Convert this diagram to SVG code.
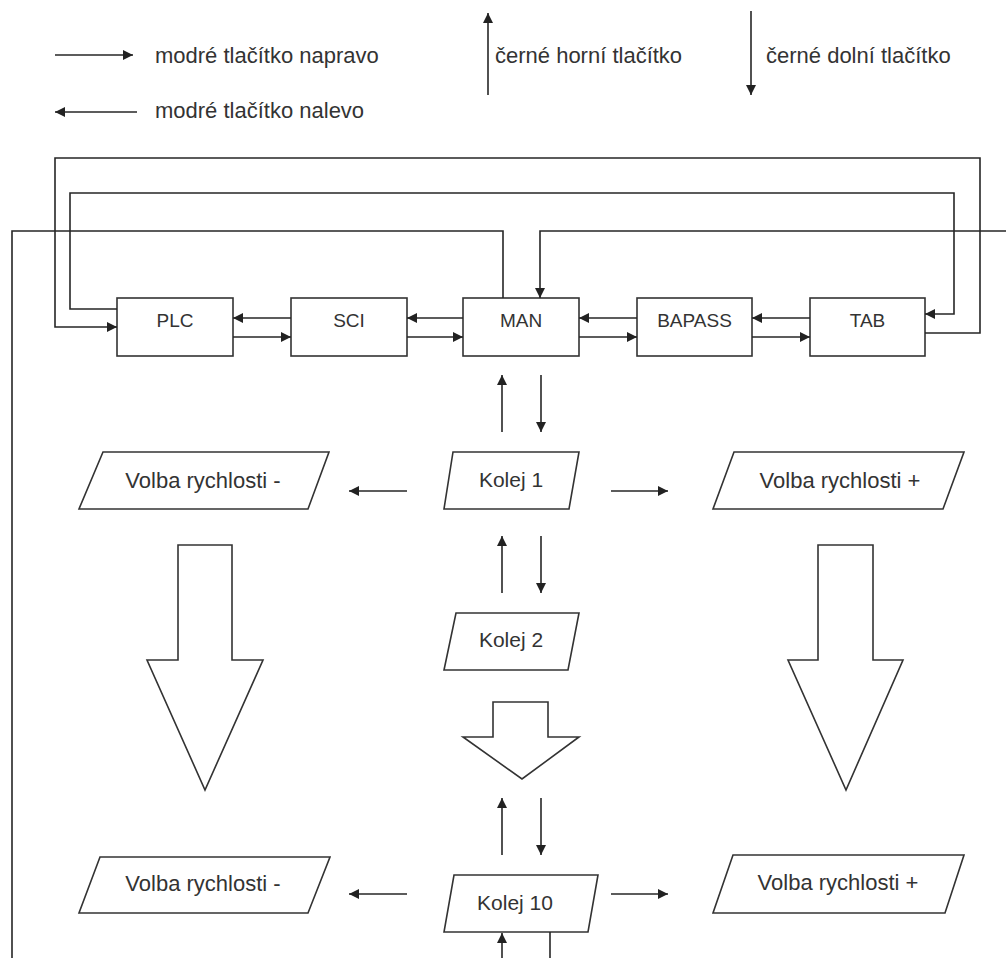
<svg xmlns="http://www.w3.org/2000/svg" width="1006" height="958" viewBox="0 0 1006 958">
<defs>
<marker id="ah" viewBox="0 0 10 10" refX="10" refY="5" markerWidth="12" markerHeight="10" markerUnits="userSpaceOnUse" orient="auto">
<path d="M0,0 L10,5 L0,10 z" fill="#222"/>
</marker>
</defs>
<style>
.ln{fill:none;stroke:#262626;stroke-width:1.6}
.ar{fill:none;stroke:#262626;stroke-width:1.6;marker-end:url(#ah)}
.sh{fill:#fff;stroke:#333;stroke-width:1.6}
.t{font-family:"Liberation Sans",Arial,sans-serif;font-size:21px;fill:#333}
.lg{font-size:22px}
.bt{font-family:"Liberation Sans",Arial,sans-serif;font-size:19px;fill:#333;text-anchor:middle}
.c{text-anchor:middle}
</style>
<rect width="1006" height="958" fill="#fff"/>

<g id="legend">
<text class="t lg" x="155" y="63">modré tlačítko napravo</text>
<text class="t lg" x="155" y="118">modré tlačítko nalevo</text>
<text class="t lg" x="495" y="63">černé horní tlačítko</text>
<text class="t lg" x="766" y="63">černé dolní tlačítko</text>
</g>

<g id="node-plc"><rect class="sh" x="117" y="298" width="116" height="58"/><text class="bt" x="175" y="327">PLC</text></g>
<g id="node-sci"><rect class="sh" x="291" y="298" width="116" height="58"/><text class="bt" x="349" y="327">SCI</text></g>
<g id="node-man"><rect class="sh" x="463" y="298" width="116" height="58"/><text class="bt" x="521" y="327">MAN</text></g>
<g id="node-bapass"><rect class="sh" x="637" y="298" width="115" height="58"/><text class="bt" x="694.5" y="327">BAPASS</text></g>
<g id="node-tab"><rect class="sh" x="810" y="298" width="115" height="58"/><text class="bt" x="867.5" y="327">TAB</text></g>

<g id="node-kolej1"><polygon class="sh" points="453,452 579,452 569,509 444,509"/><text class="t c" x="511" y="487">Kolej 1</text></g>
<g id="node-kolej2"><polygon class="sh" points="456,613 579,613 568,670 444,670"/><text class="t c" x="511" y="647">Kolej 2</text></g>
<g id="node-kolej10"><polygon class="sh" points="454,875 598,875 588,932 444,932"/><text class="t c" x="515" y="910">Kolej 10</text></g>
<g id="node-volba-minus-1"><polygon class="sh" points="103,452 329,452 308,509 79,509"/><text class="t lg c" x="203" y="488">Volba rychlosti -</text></g>
<g id="node-volba-plus-1"><polygon class="sh" points="734,452 964,452 943,509 713,509"/><text class="t lg c" x="840" y="488">Volba rychlosti +</text></g>
<g id="node-volba-minus-10"><polygon class="sh" points="100,857 330,857 308,913 79,913"/><text class="t lg c" x="203" y="891">Volba rychlosti -</text></g>
<g id="node-volba-plus-10"><polygon class="sh" points="733,855 964,855 945,913 713,913"/><text class="t lg c" x="838" y="890">Volba rychlosti +</text></g>

<g id="block-arrows">
<path class="sh" d="M178,545 H232 V660 H263 L205,790 L147,660 H178 Z"/>
<path class="sh" d="M818,545 H873 V660 H903 L846,790 L788,660 H818 Z"/>
<path class="sh" d="M493,702 H548 V737 H579 L522,779 L463,737 H493 Z"/>
</g>

<g id="connectors">
<path class="ar" d="M55,55 H133"/>
<path class="ar" d="M137,112 H55"/>
<path class="ar" d="M488,95 V13"/>
<path class="ar" d="M751,11 V95"/>

<path class="ar" d="M291,318 H233"/>
<path class="ar" d="M233,337 H291"/>
<path class="ar" d="M463,318 H407"/>
<path class="ar" d="M407,337 H463"/>
<path class="ar" d="M637,318 H579"/>
<path class="ar" d="M579,337 H637"/>
<path class="ar" d="M810,318 H752"/>
<path class="ar" d="M752,337 H810"/>

<path class="ar" d="M925,333 H980 V158 H55 V327 H117"/>
<path class="ar" d="M117,309 H70 V193 H954 V314 H925"/>
<path class="ln" d="M503,298 V231 H12 V958"/>
<path class="ar" d="M1006,231 H540 V298"/>

<path class="ar" d="M502,432 V375"/>
<path class="ar" d="M541,375 V432"/>
<path class="ar" d="M502,593 V536"/>
<path class="ar" d="M541,536 V593"/>
<path class="ar" d="M502,855 V798"/>
<path class="ar" d="M541,798 V855"/>

<path class="ar" d="M407,491 H349"/>
<path class="ar" d="M611,491 H668"/>
<path class="ar" d="M407,894 H349"/>
<path class="ar" d="M611,894 H668"/>

<path class="ar" d="M502,958 V933"/>
<path class="ln" d="M550,932 V958"/>
</g>
</svg>
